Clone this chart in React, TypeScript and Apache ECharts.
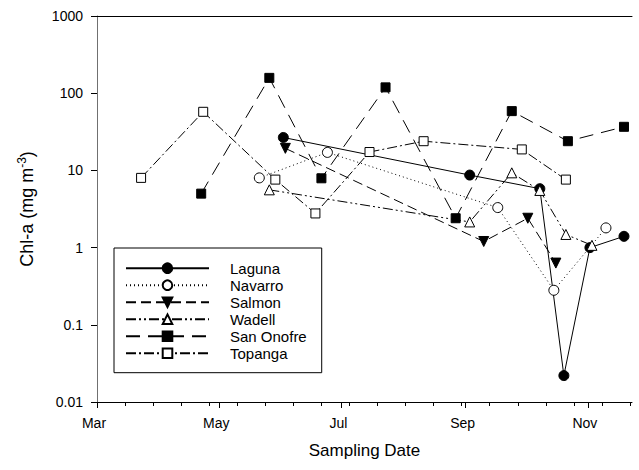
import React, { useEffect, useRef } from 'react';
import * as echarts from 'echarts';

// ---- data ----
const monthStart: Record<string, number> = { '03': 0, '04': 31, '05': 61, '06': 92, '07': 122, '08': 153, '09': 184, '10': 214, '11': 245, '12': 275 };
const dayOf = (md: string) => monthStart[md.slice(0, 2)] + Number(md.slice(3)) - 1;

const xTickLabels = ['Mar', 'May', 'Jul', 'Sep', 'Nov'];
const xTickDates = ['03-01', '05-01', '07-01', '09-01', '11-01'];
const xAxisStart = '03-01';
const xAxisEnd = '11-23';
const minorTickStepDays = 14;
const yTicks = [0.01, 0.1, 1, 10, 100, 1000];

const seriesNames = ['Laguna', 'Navarro', 'Salmon', 'Wadell', 'San Onofre', 'Topanga'];

const lagunaDates = ['06-02', '09-03', '10-08', '10-20', '11-02', '11-19'];
const lagunaValues = [26.7, 8.7, 5.8, 0.022, 1.0, 1.4];

const navarroDates = ['05-21', '06-24', '09-17', '10-15', '11-10'];
const navarroValues = [8.0, 17.1, 3.3, 0.28, 1.8];

const salmonDates = ['06-03', '09-10', '10-02', '10-16'];
const salmonValues = [19.3, 1.2, 2.4, 0.63];

const wadellDates = ['05-26', '09-03', '09-24', '10-08', '10-21', '11-03'];
const wadellValues = [5.6, 2.15, 9.3, 5.5, 1.48, 1.07];

const sanOnofreDates = ['04-22', '05-26', '06-21', '07-23', '08-27', '09-24', '10-22', '11-19'];
const sanOnofreValues = [5.0, 158, 7.9, 119, 2.4, 58.6, 23.9, 36.7];

const topangaDates = ['03-23', '04-23', '05-29', '06-18', '07-15', '08-11', '09-29', '10-21'];
const topangaValues = [8.0, 57.4, 7.6, 2.77, 17.3, 23.9, 18.7, 7.6];

const allDates = [lagunaDates, navarroDates, salmonDates, wadellDates, sanOnofreDates, topangaDates];
const allValues = [lagunaValues, navarroValues, salmonValues, wadellValues, sanOnofreValues, topangaValues];

// ---- styles ----
const FONT = '"Liberation Sans", Arial, Helvetica, sans-serif';
const styles = [
  { symbol: 'circle', rotate: 0, hollow: false, dash: 'solid' as any, size: 10 },
  { symbol: 'circle', rotate: 0, hollow: true, dash: [1, 3], size: 10 },
  { symbol: 'triangle', rotate: 180, hollow: false, dash: [10, 5], size: 10 },
  { symbol: 'triangle', rotate: 0, hollow: true, dash: [10, 3, 2, 3, 2, 3], size: 10 },
  { symbol: 'rect', rotate: 0, hollow: false, dash: [14, 8], size: 9 },
  { symbol: 'rect', rotate: 0, hollow: true, dash: [10, 3, 2, 3], size: 9 },
];

const xMin = dayOf(xAxisStart);
const xMax = dayOf(xAxisEnd);
const majorTicks = xTickDates.map(dayOf);
const minorTicks: number[] = [];
for (let d = xMin; d <= xMax; d += minorTickStepDays) minorTicks.push(d);

function buildOption(): any {
  const series = seriesNames.map((name, i) => {
    const s = styles[i];
    return {
      name,
      type: 'line',
      xAxisIndex: 0,
      yAxisIndex: 0,
      data: allDates[i].map((d, j) => [dayOf(d), allValues[i][j]]),
      symbol: s.symbol,
      symbolSize: s.size,
      symbolRotate: s.rotate,
      lineStyle: { color: '#000', width: 1, type: s.dash },
      itemStyle: { color: s.hollow ? '#fff' : '#000', borderColor: '#000', borderWidth: 1 },
      emphasis: { disabled: true },
      z: 2 + i,
    };
  });

  return {
    animation: false,
    backgroundColor: '#fff',
    textStyle: { fontFamily: FONT },
    grid: { left: 97, right: 7, top: 16, bottom: 68, containLabel: false },
    legend: {
      orient: 'vertical',
      left: 114,
      top: 248,
      padding: [12.7, 15, 12, 11],
      itemWidth: 83,
      itemHeight: 12,
      itemGap: 2,
      borderColor: '#000',
      borderWidth: 1,
      borderRadius: 0,
      backgroundColor: '#fff',
      selectedMode: false,
      data: seriesNames,
      textStyle: { fontFamily: FONT, fontSize: 15, color: '#000', padding: [0, 0, 0, 16], lineHeight: 12 },
      z: 20,
    },
    xAxis: [
      {
        type: 'value',
        position: 'bottom',
        min: xMin,
        max: xMax,
        name: 'Sampling Date',
        nameLocation: 'middle',
        nameGap: 40,
        nameTextStyle: { fontFamily: FONT, fontSize: 17, color: '#000' },
        axisLine: { show: true, onZero: false, lineStyle: { color: '#000', width: 1 } },
        axisTick: { show: true, customValues: majorTicks, length: 6, lineStyle: { color: '#000' } },
        axisLabel: {
          customValues: majorTicks,
          margin: 14,
          padding: [0, 6, 0, 0],
          fontFamily: FONT,
          fontSize: 14,
          color: '#000',
          formatter: (v: number) => {
            const k = majorTicks.indexOf(Math.round(v));
            return k >= 0 ? xTickLabels[k] : '';
          },
        },
        splitLine: { show: false },
      },
      {
        type: 'value',
        position: 'bottom',
        min: xMin,
        max: xMax,
        axisLine: { show: false, onZero: false },
        axisTick: { show: true, customValues: minorTicks, length: 4, lineStyle: { color: '#000' } },
        axisLabel: { show: false },
        splitLine: { show: false },
      },
      {
        type: 'value',
        position: 'top',
        min: xMin,
        max: xMax,
        axisLine: { show: true, onZero: false, lineStyle: { color: '#000', width: 1 } },
        axisTick: { show: false },
        axisLabel: { show: false },
        splitLine: { show: false },
      },
    ],
    yAxis: {
      type: 'log',
      logBase: 10,
      min: yTicks[0],
      max: yTicks[yTicks.length - 1],
      name: 'Chl-a (mg m{sup|-3})',
      nameLocation: 'middle',
      nameGap: 59,
      nameRotate: 90,
      nameTextStyle: {
        fontFamily: FONT,
        fontSize: 18,
        color: '#000',
        lineHeight: 22,
        rich: { sup: { fontFamily: FONT, fontSize: 12, color: '#000', verticalAlign: 'top', lineHeight: 12 } },
      },
      axisLine: { show: true, onZero: false, lineStyle: { color: '#707070', width: 1 } },
      axisTick: { show: true, length: 6, lineStyle: { color: '#000' } },
      axisLabel: {
        margin: 14,
        fontFamily: FONT,
        fontSize: 14,
        color: '#000',
        formatter: (v: number) => String(Number(v.toPrecision(3))),
      },
      splitLine: { show: false },
      minorTick: { show: false },
    },
    series,
  };
}

export default function App() {
  const ref = useRef<HTMLDivElement>(null);
  useEffect(() => {
    if (!ref.current) return;
    const chart = echarts.init(ref.current, null, { renderer: 'svg' });
    chart.setOption(buildOption());
    return () => chart.dispose();
  }, []);
  return <div ref={ref} style={{ position: 'absolute', left: 0, top: 0, width: 639, height: 470 }} />;
}
